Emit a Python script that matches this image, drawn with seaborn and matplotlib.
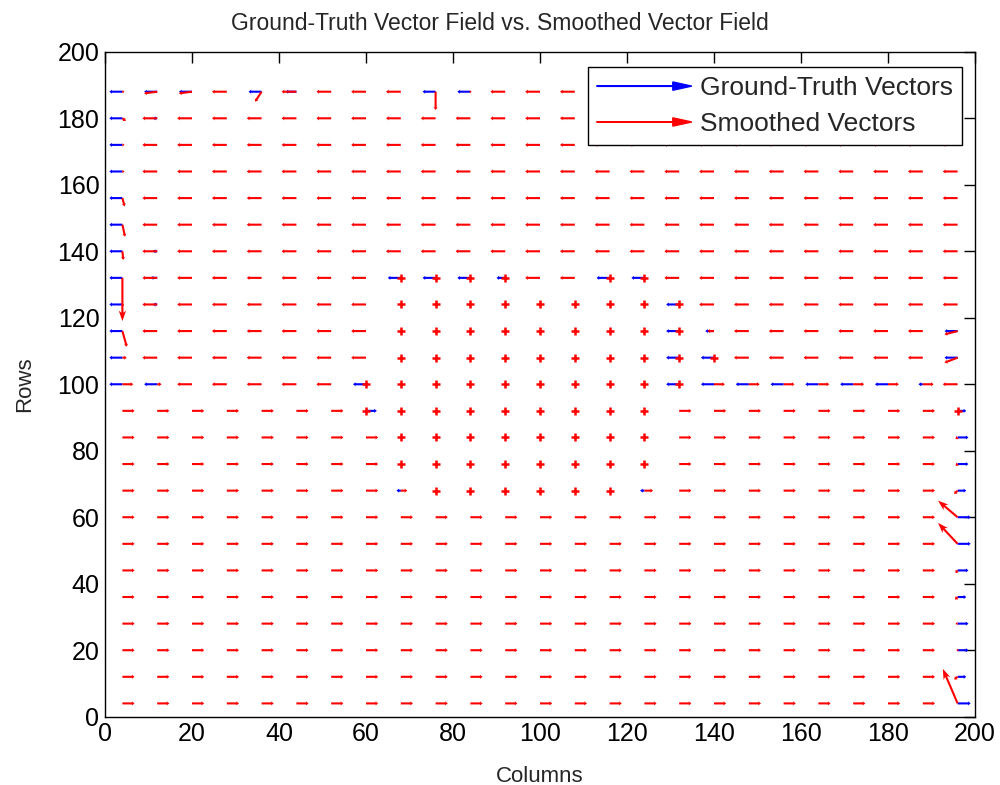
import numpy as np
import pandas as pd
import matplotlib
matplotlib.use("Agg")
import matplotlib.pyplot as plt
import matplotlib.patches as mpatches
from matplotlib.legend_handler import HandlerPatch
import seaborn as sns

sns.set_theme(style="white")
plt.rcParams['font.family'] = ['Liberation Sans', 'DejaVu Sans']

# grid of the vector field
cols = [4, 12, 20, 28, 36, 44, 52, 60, 68, 76, 84, 92, 100,
        108, 116, 124, 132, 140, 148, 156, 164, 172, 180, 188, 196]
rows = [4, 12, 20, 28, 36, 44, 52, 60, 68, 76, 84, 92,
        100, 108, 116, 124, 132, 140, 148, 156, 164, 172, 180, 188]
# horizontal component of the smoothed field, one value per row
row_u = [2.8, 2.8, 2.8, 2.8, 2.8, 2.8, 2.8, 2.8, 2.8, 2.8, 2.8, 2.8,
         -3.4, -3.4, -3.4, -3.4, -3.4, -3.4, -3.4, -3.4, -3.4, -3.4, -3.4, -3.4]

# block where the smoothed vectors are zero
zero_cols = [68, 76, 84, 92, 100, 108, 116, 124]
zero_rows = [68, 76, 84, 92, 100, 108, 116, 124]
# other zero smoothed vectors
red_zero = [(60, 100), (60, 92), (68, 132), (76, 132), (84, 132), (92, 132),
            (116, 132), (124, 132), (132, 100), (132, 108), (132, 116),
            (132, 124), (140, 108), (196, 92)]

# smoothed vectors that differ from the row value
red_fix = {
    (4, 188): (0.5, 0), (4, 180): (0.8, -0.8), (4, 172): (0.5, 0),
    (4, 164): (0.5, 0), (4, 156): (0.5, -2.5), (4, 148): (0.6, -3.6),
    (4, 140): (0.2, -2.6), (4, 132): (0, -13), (4, 124): (0.3, -0.5),
    (4, 116): (1, -4.7), (4, 108): (1, 0), (4, 100): (2.5, 0),
    (12, 188): (-3, -0.5), (20, 188): (-3, -0.5), (36, 188): (-1.5, -3),
    (76, 188): (0, -5.5), (84, 188): (0.4, 0), (12, 100): (1, 0),
    (140, 116): (-1.5, 0),
    (140, 100): (2.5, 0), (148, 100): (2.5, 0), (156, 100): (2.5, 0),
    (164, 100): (2.5, 0), (172, 100): (2.5, 0), (180, 100): (2.5, 0),
    (188, 100): (2.5, 0),
    (196, 116): (-3, -1), (196, 108): (-3, -1.5),
    (196, 84): (-0.5, -0.5), (196, 76): (-0.5, -0.5), (196, 68): (-0.8, -1),
    (196, 60): (-4.5, 5), (196, 52): (-4.5, 6.3), (196, 44): (-0.5, -0.8),
    (196, 36): (-0.6, -0.8), (196, 28): (-0.5, 0), (196, 20): (-0.4, 0),
    (196, 12): (-0.8, -0.8), (196, 4): (-3.4, 10.4),
}
# inside the zero block, these two still move
block_moving = {(68, 68): (1.5, 0), (124, 68): (2, 0)}

# ground-truth vectors that are not zero (x, y, u, v)
blue_x = [4, 4, 4, 4, 4, 4, 4, 4, 4, 4, 4, 4,
          12, 20, 36, 44, 76, 84, 12, 12, 12, 12, 12,
          60, 60, 68, 124,
          68, 76, 84, 92, 116, 124,
          132, 140, 148, 156, 164, 172, 180, 188,
          132, 132, 132, 140, 140, 196, 196,
          196, 196, 196, 196, 196, 196, 196, 196, 196, 196, 196, 196]
blue_y = [188, 180, 172, 164, 156, 148, 140, 132, 124, 116, 108, 100,
          188, 188, 188, 188, 188, 188, 180, 140, 132, 124, 100,
          100, 92, 68, 68,
          132, 132, 132, 132, 132, 132,
          100, 100, 100, 100, 100, 100, 100, 100,
          124, 116, 108, 116, 108, 116, 108,
          92, 84, 76, 68, 60, 52, 44, 36, 28, 20, 12, 4]
blue_u = [-3, -3, -3, -3, -3, -3, -3, -3, -3, -3, -3, -3,
          -3, -3, -3, -2.5, -3, -3, -1, -1, -1.5, -1, -3,
          -3, 2.5, -1, -1,
          -3, -3, -3, -2, -3, -3,
          -3, -3, -3, -3, -3, -3, -3, -1,
          -3, -3, -3, -2, -3, -3, -3,
          2, 2.5, 2.5, 2, 3, 3, 2.5, 2, 2.5, 2.5, 2, 3]

df = pd.DataFrame([(x, y, row_u[i], 0.0) for i, y in enumerate(rows) for x in cols],
                  columns=['x', 'y', 'u', 'v'])
for k, (u, v) in red_fix.items():
    df.loc[(df.x == k[0]) & (df.y == k[1]), ['u', 'v']] = [u, v]
df.loc[df.x.isin(zero_cols) & df.y.isin(zero_rows), ['u', 'v']] = [0, 0]
for x, y in red_zero:
    df.loc[(df.x == x) & (df.y == y), ['u', 'v']] = [0, 0]
for k, (u, v) in block_moving.items():
    df.loc[(df.x == k[0]) & (df.y == k[1]), ['u', 'v']] = [u, v]
df['len'] = np.hypot(df.u, df.v)
short = df[(df.len > 0) & (df.len <= 6)]
longer = df[df.len > 6]
still = df[df.len == 0]

fig, ax = plt.subplots(figsize=(10, 7.85), dpi=100)
fig.subplots_adjust(left=0.105, right=0.975, bottom=0.087, top=0.934)

qkw = dict(angles='xy', scale_units='xy', scale=1, width=0.0024,
           headwidth=2.0, headlength=1.3, headaxislength=1.2)
ax.quiver(blue_x, blue_y, blue_u, [0] * len(blue_u), color='#0000ff', **qkw)
ax.quiver(short.x, short.y, short.u, short.v, color='#ff0000', **qkw)
ax.quiver(longer.x, longer.y, longer.u, longer.v, color='#ff0000',
          angles='xy', scale_units='xy', scale=1, width=0.0024,
          headwidth=3.5, headlength=5, headaxislength=4)
sns.scatterplot(data=still, x='x', y='y', marker='+', s=30, color='#ff0000',
                linewidth=1.8, ax=ax, legend=False)

ax.set_xlim(0, 200)
ax.set_ylim(0, 200)
ax.set_xticks(range(0, 201, 20))
ax.set_yticks(range(0, 201, 20))
ax.tick_params(direction='in', length=8, width=1, top=True, right=True,
               labelsize=18, colors='black', pad=4)
for s in ax.spines.values():
    s.set_color('black')
    s.set_linewidth(1)
ax.set_title('Ground-Truth Vector Field vs. Smoothed Vector Field', fontsize=16.5,
             x=0.454, pad=16)
ax.set_xlabel('Columns', fontsize=16, labelpad=14)
ax.set_ylabel('Rows', fontsize=16, labelpad=16)


def arrow_handle(legend, orig_handle, xdescent, ydescent, width, height, fontsize):
    return mpatches.FancyArrow(0, 0.5 * height, width, 0, width=0.4,
                               length_includes_head=True, head_width=0.45 * height,
                               head_length=0.2 * width)


h1 = mpatches.FancyArrow(0, 0, 1, 0, color='#0000ff')
h2 = mpatches.FancyArrow(0, 0, 1, 0, color='#ff0000')
leg = ax.legend([h1, h2], ['Ground-Truth Vectors', 'Smoothed Vectors'],
                handler_map={mpatches.FancyArrow: HandlerPatch(patch_func=arrow_handle)},
                loc='upper right', bbox_to_anchor=(0.985, 0.977), borderaxespad=0,
                fontsize=19, handlelength=3.6, handletextpad=0.3, borderpad=0.35,
                labelspacing=0.45, fancybox=False, framealpha=1, edgecolor='black')
leg.get_frame().set_linewidth(1)

plt.savefig('out.png')
